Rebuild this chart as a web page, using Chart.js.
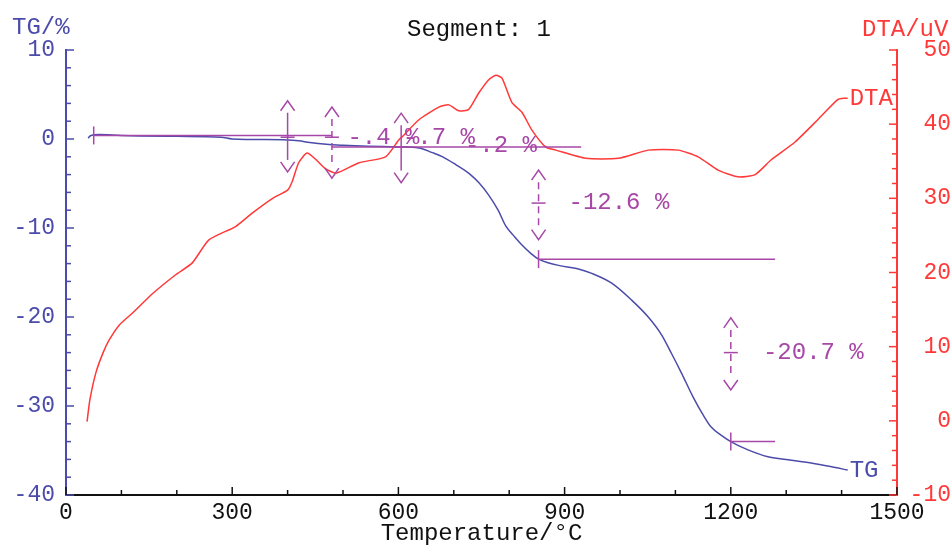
<!DOCTYPE html>
<html>
<head>
<meta charset="utf-8">
<script src="https://cdn.jsdelivr.net/npm/chart.js@4.4.0/dist/chart.umd.min.js"></script>
<style>
  body { margin: 0; background: #fff; }
  #wrap { width: 951px; height: 545px; }
</style>
</head>
<body>
<div id="wrap"><canvas id="myChart" width="951" height="545"></canvas></div>
<script>
// TG curve (temperature in C, mass change in %)
const tgTemp = [40, 45, 60, 100, 200, 280, 300, 400, 420, 440, 470, 500, 600, 637, 660, 680, 704, 730, 745, 763, 780, 794, 810, 823, 840, 853, 870, 889, 925, 949, 985, 1021, 1051, 1075, 1093, 1111, 1132, 1150, 1165, 1183, 1200, 1230, 1267, 1300, 1345, 1380, 1411];
const tgValues = [0.1, 0.4, 0.5, 0.4, 0.3, 0.2, 0.0, -0.1, -0.2, -0.4, -0.6, -0.7, -0.9, -1.0, -1.5, -2.0, -2.9, -4.0, -4.9, -6.3, -8.0, -9.8, -11.0, -11.9, -12.9, -13.5, -13.9, -14.2, -14.6, -15.1, -16.2, -18.1, -20.0, -22.0, -24.1, -26.3, -29.0, -31.0, -32.4, -33.3, -34.0, -34.9, -35.7, -36.0, -36.4, -36.8, -37.2];

// DTA curve (uV)
const dtaTemp = [38, 43, 54, 67, 78, 96, 121, 157, 198, 228, 258, 306, 336, 373, 400, 408, 420, 435, 450, 468, 488, 529, 577, 601, 607, 637, 673, 691, 709, 727, 745, 763, 776, 787, 805, 823, 841, 866, 884, 938, 997, 1051, 1105, 1141, 1177, 1213, 1244, 1273, 1316, 1357, 1393, 1406, 1411];
const dtaValues = [-0.1, 2.8, 6.5, 9.2, 10.9, 12.9, 14.6, 17.2, 19.7, 21.3, 24.4, 26.2, 28.0, 30.0, 31.1, 32.2, 34.8, 36.1, 35.3, 34.0, 33.4, 34.8, 35.6, 37.9, 38.3, 40.6, 42.3, 42.6, 41.8, 42.0, 44.2, 46.0, 46.6, 46.2, 42.9, 41.6, 39.2, 36.9, 36.5, 35.4, 35.4, 36.5, 36.5, 35.6, 33.8, 32.9, 33.2, 35.2, 37.6, 40.6, 43.3, 43.5, 43.5];

// axis ticks
const xTicks = [0, 300, 600, 900, 1200, 1500];
const tgTicks = [-40, -30, -20, -10, 0, 10];
const dtaTicks = [-10, 0, 10, 20, 30, 40, 50];

// step evaluation marks (TG units)
const stepT = [400, 480, 605, 853, 1200];
const stepTop = [4.3, 3.6, 2.9, -3.5, -20.1];
const stepBottom = [-3.7, -4.4, -4.9, -11.3, -28.2];
const stepMid = [0.2, 0.2, -0.9, -7.2, -24.0];
const stepDashed = [false, true, false, true, true];
const stepLabels = ['-.4 %', '-.7 %', '-.2 %', '-12.6 %', '-20.7 %'];
const labelT = [508, 608, 720, 907, 1258];
const labelTG = [0.17, 0.17, -0.8, -7.2, -24.0];

// baseline segments [fromT, toT, TG]
const hLines = [[50, 480, 0.4], [480, 930, -0.9], [853, 1280, -13.5], [1200, 1280, -34.0]];
const markT = [50, 853, 1200];
const markTG = [0.4, -13.5, -34.0];

const BLUE = '#4b4bab';
const RED = '#ff3838';
const MAG = '#a747a7';
const FONT = '"Liberation Mono", "DejaVu Sans Mono", monospace';

const toPts = (xs, ys) => xs.map((x, i) => ({x: x, y: ys[i]}));

const extras = {
  id: 'extras',
  afterDatasetsDraw(chart) {
    const ctx = chart.ctx;
    const xs = chart.scales.x, ys = chart.scales.y, ys2 = chart.scales.y2;
    const area = chart.chartArea;
    ctx.save();
    ctx.lineWidth = 1.5;

    // inward tick marks
    ctx.strokeStyle = BLUE;
    for (let v = -40; v <= 10; v += 2) {
      const py = ys.getPixelForValue(v);
      const len = v % 10 === 0 ? 8 : 5;
      ctx.beginPath(); ctx.moveTo(area.left, py); ctx.lineTo(area.left + len, py); ctx.stroke();
    }
    ctx.strokeStyle = RED;
    for (let v = -10; v <= 50; v += 2) {
      const py = ys2.getPixelForValue(v);
      const len = v % 10 === 0 ? 8 : 5;
      ctx.beginPath(); ctx.moveTo(area.right, py); ctx.lineTo(area.right - len, py); ctx.stroke();
    }
    ctx.strokeStyle = '#111';
    for (let v = 0; v <= 1500; v += 100) {
      const px = xs.getPixelForValue(v);
      const len = v % 300 === 0 ? 8 : 5;
      ctx.beginPath(); ctx.moveTo(px, area.bottom); ctx.lineTo(px, area.bottom - len); ctx.stroke();
    }

    // annotations
    ctx.strokeStyle = MAG;
    ctx.fillStyle = MAG;
    hLines.forEach(h => {
      const y = ys.getPixelForValue(h[2]);
      ctx.beginPath(); ctx.moveTo(xs.getPixelForValue(h[0]), y); ctx.lineTo(xs.getPixelForValue(h[1]), y); ctx.stroke();
    });
    markT.forEach((t, i) => {
      const x = xs.getPixelForValue(t), y = ys.getPixelForValue(markTG[i]);
      ctx.beginPath(); ctx.moveTo(x, y - 9); ctx.lineTo(x, y + 9); ctx.stroke();
    });
    stepT.forEach((t, i) => {
      const x = xs.getPixelForValue(t);
      const yt = ys.getPixelForValue(stepTop[i]);
      const yb = ys.getPixelForValue(stepBottom[i]);
      const ym = ys.getPixelForValue(stepMid[i]);
      ctx.beginPath();
      ctx.moveTo(x - 7, yt + 10); ctx.lineTo(x, yt); ctx.lineTo(x + 7, yt + 10);
      ctx.moveTo(x - 7, yb - 10); ctx.lineTo(x, yb); ctx.lineTo(x + 7, yb - 10);
      ctx.stroke();
      ctx.setLineDash(stepDashed[i] ? [7, 5] : []);
      ctx.beginPath(); ctx.moveTo(x, yt + 12); ctx.lineTo(x, yb - 12); ctx.stroke();
      ctx.setLineDash([]);
      ctx.beginPath(); ctx.moveTo(x - 7, ym); ctx.lineTo(x + 7, ym); ctx.stroke();
    });
    ctx.font = '24px ' + FONT;
    ctx.textAlign = 'left';
    ctx.textBaseline = 'middle';
    stepLabels.forEach((s, i) => {
      ctx.fillText(s, xs.getPixelForValue(labelT[i]), ys.getPixelForValue(labelTG[i]));
    });

    // curve labels
    ctx.fillStyle = BLUE;
    ctx.fillText('TG', xs.getPixelForValue(tgTemp[tgTemp.length - 1]) + 2, ys.getPixelForValue(tgValues[tgValues.length - 1]) + 1);
    ctx.fillStyle = RED;
    ctx.fillText('DTA', xs.getPixelForValue(dtaTemp[dtaTemp.length - 1]) + 2, ys2.getPixelForValue(dtaValues[dtaValues.length - 1]));

    // header texts
    ctx.fillStyle = BLUE;
    ctx.fillText('TG/%', 12, 28);
    ctx.fillStyle = RED;
    ctx.fillText('DTA/uV', 862, 30);
    ctx.fillStyle = '#111';
    ctx.textAlign = 'center';
    ctx.fillText('Segment: 1', 479, 30);
    ctx.restore();
  }
};

const ctx = document.getElementById('myChart').getContext('2d');
const chart = new Chart(ctx, {
  type: 'scatter',
  data: {
    datasets: [{
      label: 'TG',
      data: toPts(tgTemp, tgValues),
      yAxisID: 'y',
      showLine: true,
      borderColor: BLUE,
      borderWidth: 1.5,
      pointRadius: 0,
      cubicInterpolationMode: 'monotone'
    }, {
      label: 'DTA',
      data: toPts(dtaTemp, dtaValues),
      yAxisID: 'y2',
      showLine: true,
      borderColor: RED,
      borderWidth: 1.5,
      pointRadius: 0,
      tension: 0.2
    }]
  },
  options: {
    responsive: false,
    devicePixelRatio: 1,
    animation: false,
    layout: { padding: { top: 50, left: 0, right: 0, bottom: 0 } },
    plugins: { legend: { display: false }, tooltip: { enabled: false } },
    scales: {
      x: {
        type: 'linear',
        min: 0, max: 1500,
        afterFit: (s) => { s.height = 50; },
        afterBuildTicks: (s) => { s.ticks = xTicks.map(v => ({value: v})); },
        grid: { display: false },
        border: { display: true, color: '#111', width: 2 },
        ticks: { color: '#111', font: { family: FONT, size: 23 }, padding: -4, maxRotation: 0, autoSkip: false, callback: (v) => String(v) },
        title: { display: true, text: 'Temperature/°C', color: '#111', font: { family: FONT, size: 24 }, padding: { top: 0, bottom: -3 } }
      },
      y: {
        position: 'left',
        min: -40, max: 10,
        afterFit: (s) => { s.width = 66; },
        afterBuildTicks: (s) => { s.ticks = tgTicks.map(v => ({value: v})); },
        grid: { display: false },
        border: { display: true, color: BLUE, width: 2 },
        ticks: { color: BLUE, font: { family: FONT, size: 23 }, padding: 3, autoSkip: false }
      },
      y2: {
        position: 'right',
        min: -10, max: 50,
        afterFit: (s) => { s.width = 54; },
        afterBuildTicks: (s) => { s.ticks = dtaTicks.map(v => ({value: v})); },
        grid: { display: false },
        border: { display: true, color: RED, width: 2 },
        ticks: { color: RED, font: { family: FONT, size: 23 }, padding: 4, crossAlign: 'far', autoSkip: false }
      }
    }
  },
  plugins: [extras]
});
</script>
</body>
</html>
